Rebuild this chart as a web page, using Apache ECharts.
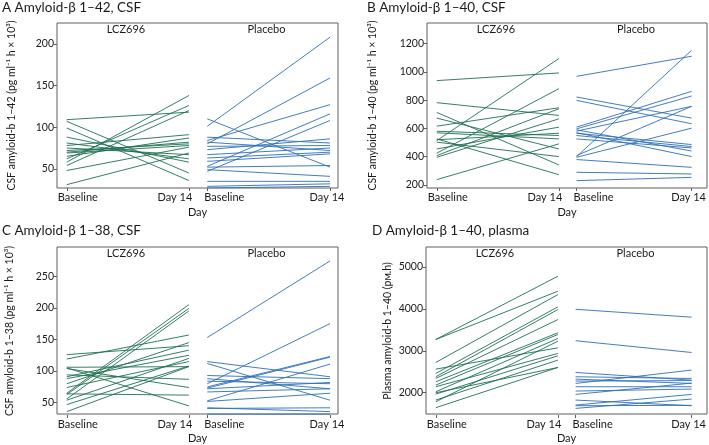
<!DOCTYPE html>
<html><head><meta charset="utf-8">
<script src="https://cdn.jsdelivr.net/npm/echarts@6/dist/echarts.min.js"></script>
<style>html,body{margin:0;padding:0;background:#fff}#c{width:709px;height:445px}</style>
</head><body><div id="c"></div>
<script>
// ---------- data ----------
const timepoints = ['Baseline', 'Day 14'];
const groups = ['LCZ696', 'Placebo'];

// Panel A: Amyloid-β 1–42, CSF
const aTicks = [50, 100, 150, 200];
const aLczBase = [109, 107, 99, 88, 81, 78, 75, 72, 69, 65, 62, 58, 54, 48, 31, 70];
const aLczD14  = [118, 45, 36, 58, 62, 91, 67, 80, 78, 87, 126, 138, 120, 76, 69, 82];
const aPlaBase = [101, 80, 84, 53, 47, 110, 88, 77, 73, 67, 63, 59, 52, 49, 82, 35, 29, 27];
const aPlaD14  = [208, 159, 127, 116, 108, 52, 81, 78, 86, 75, 70, 68, 54, 41, 72, 35, 32, 29];

// Panel B: Amyloid-β 1–40, CSF
const bTicks = [200, 400, 600, 800, 1000, 1200];
const bLczBase = [938, 782, 713, 673, 616, 569, 526, 514, 503, 455, 425, 408, 396, 238, 520, 580];
const bLczD14  = [992, 692, 342, 455, 746, 526, 273, 1094, 401, 609, 881, 739, 668, 491, 566, 550];
const bPlaBase = [968, 400, 822, 798, 609, 597, 581, 408, 396, 566, 550, 526, 570, 380, 290, 231, 590];
const bPlaD14  = [1110, 1152, 673, 633, 862, 829, 756, 756, 602, 486, 472, 462, 401, 325, 278, 254, 440];

// Panel C: Amyloid-β 1–38, CSF
const cTicks = [50, 100, 150, 200, 250];
const cLczBase = [126, 119, 106, 104, 94, 91, 88, 80, 74, 65, 63, 56, 54, 47, 36, 64, 105];
const cLczD14  = [140, 157, 107, 74, 87, 133, 125, 145, 115, 205, 199, 195, 120, 108, 107, 62, 45];
const cPlaBase = [153, 80, 75, 73, 53, 115, 112, 93, 88, 72, 67, 52, 41, 32, 42, 84];
const cPlaD14  = [274, 175, 123, 122, 111, 91, 54, 88, 72, 82, 72, 65, 42, 32, 36, 80];

// Panel D: Amyloid-β 1–40, plasma
const dTicks = [2000, 3000, 4000, 5000];
const dLczBase = [3270, 3270, 2722, 2460, 2381, 2341, 2563, 2262, 2183, 2143, 2024, 1968, 1825, 1786, 1643, 2000];
const dLczD14  = [4778, 4421, 4341, 4048, 3984, 3746, 3071, 3429, 3389, 2937, 3294, 2881, 2778, 3230, 2603, 2603];
const dPlaBase = [3990, 3240, 2484, 2381, 2325, 2278, 2222, 2143, 2040, 1960, 1825, 1706, 1627, 1690];
const dPlaD14  = [3802, 2960, 2300, 2340, 2222, 2290, 2540, 2143, 2087, 2230, 1690, 1960, 1849, 1700];

// ---------- layout ----------
const FONT = 'Lato, "Open Sans", sans-serif';
const TXT = '#1a1a1a';
const AX = '#5e5e5e';
const COLORS = ['#1f7052', '#2f6fb8'];

const panels = [
  {title: 'A Amyloid-β 1–42, CSF', yName: 'CSF amyloid-b 1–42 (pg ml⁻¹ h × 10³)', ticks: aTicks, min: 27, max: 225,
   data: [[aLczBase, aLczD14], [aPlaBase, aPlaD14]], left: 57, top: 23, h: 165, wL: 138, wP: 143, gap: 40, tx: 2, ty: 1},
  {title: 'B Amyloid-β 1–40, CSF', yName: 'CSF amyloid-b 1–40 (pg ml⁻¹ h × 10³)', ticks: bTicks, min: 179, max: 1345,
   data: [[bLczBase, bLczD14], [bPlaBase, bPlaD14]], left: 427, top: 23, h: 165, wL: 138, wP: 142, gap: 49, tx: 367, ty: 1},
  {title: 'C Amyloid-β 1–38, CSF', yName: 'CSF amyloid-b 1–38 (pg ml⁻¹ h × 10³)', ticks: cTicks, min: 30.6, max: 296,
   data: [[cLczBase, cLczD14], [cPlaBase, cPlaD14]], left: 57, top: 247, h: 168, wL: 138, wP: 143, gap: 42, tx: 2, ty: 224},
  {title: 'D Amyloid-β 1–40, plasma', yName: 'Plasma amyloid-b 1–40 (pᴍ.h)', ticks: dTicks, min: 1469, max: 5476,
   data: [[dLczBase, dLczD14], [dPlaBase, dPlaD14]], left: 426, top: 247, h: 168, wL: 138, wP: 143, gap: 33, tx: 372, ty: 224}
];

const facetX = [
  {min: -0.08, max: 1.05, shift: [22, 28]},
  {min: -0.10, max: 1.065, shift: [34, 6]}
];

const grid = [], xAxis = [], yAxis = [], series = [], title = [];

panels.forEach((p, pi) => {
  title.push({text: p.title, left: p.tx, top: p.ty, padding: 0, textAlign: 'left', textVerticalAlign: 'top',
    textStyle: {fontFamily: FONT, fontSize: 13.5, fontWeight: 'normal', color: TXT}});
  const fi = grid.length;
  grid.push({left: p.left, top: p.top, width: p.wL + p.wP, height: p.h, show: true, borderColor: AX, borderWidth: 1, backgroundColor: 'transparent'});
  xAxis.push({gridIndex: fi, type: 'value', min: 0, max: 1, axisLine: {show: false, onZero: false}, axisTick: {show: false}, axisLabel: {show: false}, splitLine: {show: false},
    name: 'Day', nameLocation: 'middle', nameGap: 19, nameTextStyle: {fontFamily: FONT, fontSize: 11, color: TXT}});
  yAxis.push({gridIndex: fi, type: 'value', show: false, axisLine: {onZero: false}});
  groups.forEach((g, gi) => {
    const idx = grid.length;
    const fl = gi === 0 ? p.left : p.left + p.wL;
    const fw = gi === 0 ? p.wL : p.wP;
    grid.push({left: fl, top: p.top, width: fw, height: p.h});
    title.push({text: g, left: fl + fw / 2, top: p.top + 1, padding: 0, textAlign: 'center', textVerticalAlign: 'top',
      textStyle: {fontFamily: FONT, fontSize: 11, fontWeight: 'normal', color: TXT}});
    const fx = facetX[gi];
    xAxis.push({gridIndex: idx, type: 'value', min: fx.min, max: fx.max,
      axisLine: {show: false, onZero: false},
      axisTick: {show: true, customValues: [0, 1], length: 3, lineStyle: {color: AX}},
      axisLabel: {customValues: [0, 1], margin: 4,
        formatter: v => v === 0 ? '{b|' + timepoints[0] + '}' : '{d|' + timepoints[1] + '}',
        rich: {
          b: {fontFamily: FONT, fontSize: 11, color: TXT, padding: [0, 0, 0, fx.shift[0]]},
          d: {fontFamily: FONT, fontSize: 11, color: TXT, padding: [0, fx.shift[1], 0, 0]}
        }},
      splitLine: {show: false}});
    if (gi === 0) {
      yAxis.push({gridIndex: idx, type: 'value', min: p.min, max: p.max,
        axisLine: {show: false, onZero: false},
        axisTick: {show: true, customValues: p.ticks, length: 3, lineStyle: {color: AX}},
        axisLabel: {customValues: p.ticks, margin: 3, fontFamily: FONT, fontSize: 10.5, color: TXT, formatter: v => String(v)},
        splitLine: {show: false},
        name: p.yName, nameLocation: 'middle', nameGap: p.gap, nameRotate: 90, nameMoveOverlap: false,
        nameTextStyle: {fontFamily: FONT, fontSize: 10.5, color: TXT}});
    } else {
      yAxis.push({gridIndex: idx, type: 'value', min: p.min, max: p.max, show: false, axisLine: {onZero: false}});
    }
    const [base, d14] = p.data[gi];
    base.forEach((b, k) => {
      series.push({type: 'line', xAxisIndex: idx, yAxisIndex: idx, data: [[0, b], [1, d14[k]]],
        symbol: 'none', silent: true, animation: false,
        lineStyle: {width: 1, color: COLORS[gi], opacity: 0.9}});
    });
  });
});

const chart = echarts.init(document.getElementById('c'), null, {renderer: 'canvas'});
chart.setOption({animation: false, title, grid, xAxis, yAxis, series});
</script>
</body></html>
